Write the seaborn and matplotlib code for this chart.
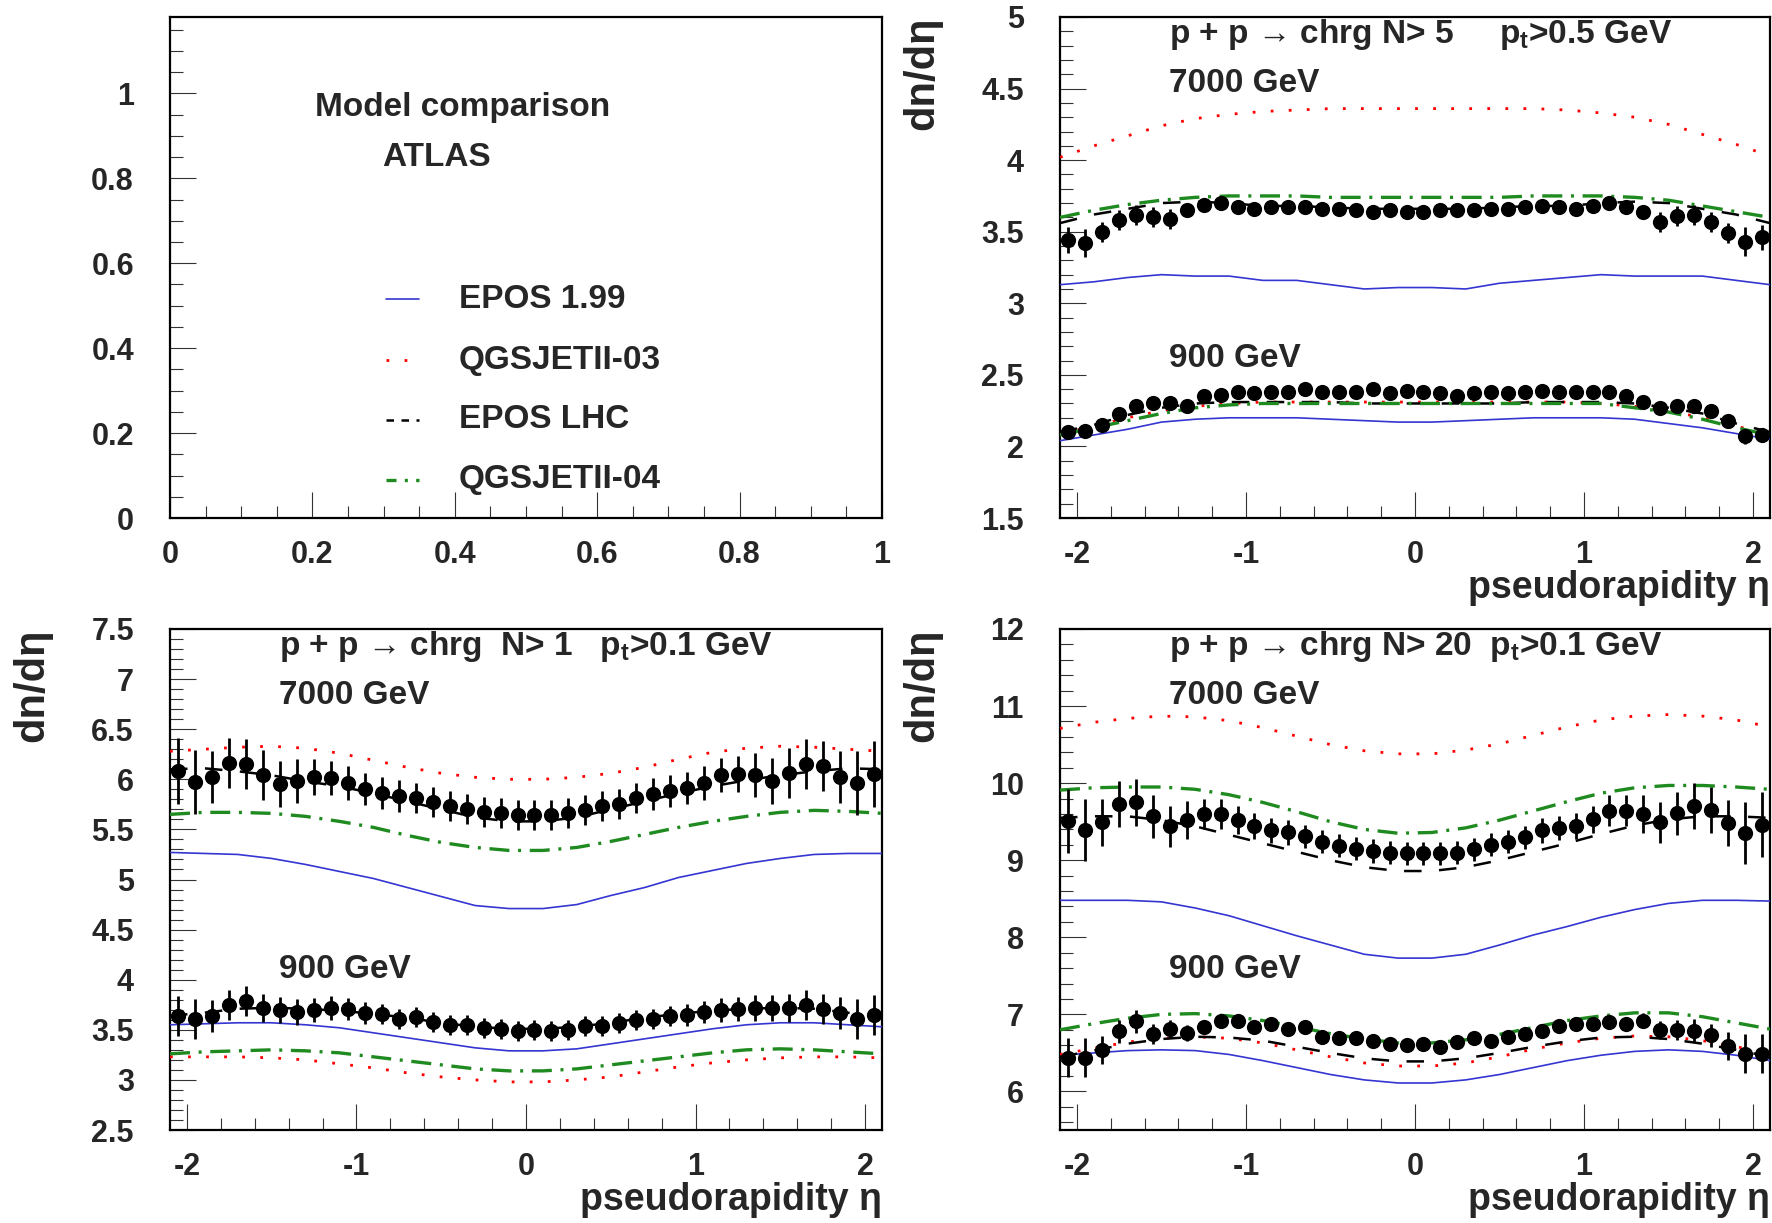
import matplotlib
matplotlib.use("Agg")
import matplotlib.pyplot as plt
import seaborn as sns
from matplotlib.ticker import MultipleLocator, FuncFormatter

sns.set_style("white")
plt.rcParams["font.family"] = ["Liberation Sans", "DejaVu Sans"]
plt.rcParams["font.weight"] = "bold"
plt.rcParams["mathtext.fontset"] = "custom"
plt.rcParams["mathtext.rm"] = "Liberation Sans:bold"
plt.rcParams["mathtext.it"] = "Liberation Sans:bold"
plt.rcParams["mathtext.bf"] = "Liberation Sans:bold"

# ---------------- data ----------------
eta_data = [-2.05, -1.95, -1.85, -1.75, -1.65, -1.55, -1.45, -1.35, -1.25, -1.15,
            -1.05, -0.95, -0.85, -0.75, -0.65, -0.55, -0.45, -0.35, -0.25, -0.15,
            -0.05, 0.05, 0.15, 0.25, 0.35, 0.45, 0.55, 0.65, 0.75, 0.85,
            0.95, 1.05, 1.15, 1.25, 1.35, 1.45, 1.55, 1.65, 1.75, 1.85, 1.95, 2.05]
eta_model = [-2.1, -1.9, -1.7, -1.5, -1.3, -1.1, -0.9, -0.7, -0.5, -0.3, -0.1,
             0.1, 0.3, 0.5, 0.7, 0.9, 1.1, 1.3, 1.5, 1.7, 1.9, 2.1]

model_names = ["EPOS 1.99", "QGSJETII-03", "EPOS LHC", "QGSJETII-04"]

# Panel A: N>5, pt>0.5 GeV
a7000_data = [3.44, 3.42, 3.50, 3.58, 3.62, 3.60, 3.59, 3.65, 3.69, 3.70, 3.67, 3.66, 3.67, 3.67,
              3.67, 3.66, 3.66, 3.65, 3.64, 3.65, 3.64, 3.64, 3.65, 3.65, 3.65, 3.66, 3.66, 3.67,
              3.68, 3.67, 3.66, 3.68, 3.70, 3.67, 3.64, 3.57, 3.61, 3.62, 3.57, 3.49, 3.43, 3.46]
a7000_err = [0.09, 0.10, 0.07, 0.07, 0.07, 0.07, 0.07, 0.05, 0.04, 0.04,
             0.035, 0.035, 0.035, 0.035, 0.035, 0.035, 0.035, 0.035, 0.035, 0.035, 0.035,
             0.035, 0.035, 0.035, 0.035, 0.035, 0.035, 0.035, 0.035, 0.035, 0.035, 0.035,
             0.04, 0.04, 0.05, 0.07, 0.07, 0.07, 0.07, 0.07, 0.10, 0.09]
a900_data = [2.10, 2.11, 2.15, 2.23, 2.28, 2.30, 2.30, 2.28, 2.35, 2.36, 2.38, 2.37, 2.38, 2.38,
             2.40, 2.38, 2.38, 2.38, 2.40, 2.37, 2.39, 2.38, 2.37, 2.35, 2.37, 2.38, 2.37, 2.38,
             2.39, 2.38, 2.38, 2.38, 2.38, 2.35, 2.31, 2.27, 2.28, 2.28, 2.25, 2.18, 2.07, 2.08]
a900_err = [0.05, 0.05, 0.045, 0.04, 0.04, 0.035, 0.035, 0.035, 0.03, 0.03,
            0.03, 0.03, 0.03, 0.03, 0.03, 0.03, 0.03, 0.03, 0.03, 0.03, 0.03,
            0.03, 0.03, 0.03, 0.03, 0.03, 0.03, 0.03, 0.03, 0.03, 0.03, 0.03,
            0.03, 0.03, 0.035, 0.035, 0.035, 0.04, 0.04, 0.045, 0.05, 0.05]
a7000_epos199 = [3.13, 3.15, 3.18, 3.20, 3.19, 3.19, 3.16, 3.16, 3.13, 3.10, 3.11, 3.11, 3.10, 3.14, 3.16, 3.18, 3.20, 3.19, 3.19, 3.19, 3.16, 3.13]
a7000_qgs03 = [4.02, 4.10, 4.17, 4.24, 4.29, 4.32, 4.34, 4.35, 4.36, 4.36, 4.36, 4.36, 4.36, 4.36, 4.36, 4.35, 4.33, 4.30, 4.25, 4.18, 4.11, 4.03]
a7000_eposlhc = [3.56, 3.62, 3.66, 3.70, 3.71, 3.70, 3.68, 3.68, 3.67, 3.66, 3.66, 3.66, 3.66, 3.67, 3.68, 3.68, 3.70, 3.71, 3.70, 3.66, 3.62, 3.56]
a7000_qgs04 = [3.60, 3.65, 3.69, 3.72, 3.74, 3.75, 3.75, 3.75, 3.74, 3.74, 3.74, 3.74, 3.74, 3.74, 3.75, 3.75, 3.75, 3.74, 3.72, 3.68, 3.64, 3.60]
a900_epos199 = [2.04, 2.08, 2.12, 2.17, 2.19, 2.20, 2.20, 2.20, 2.19, 2.18, 2.17, 2.17, 2.18, 2.19, 2.20, 2.20, 2.20, 2.19, 2.16, 2.13, 2.09, 2.05]
a900_qgs03 = [2.09, 2.14, 2.20, 2.25, 2.28, 2.30, 2.31, 2.31, 2.31, 2.31, 2.31, 2.31, 2.31, 2.31, 2.31, 2.31, 2.30, 2.28, 2.25, 2.20, 2.14, 2.09]
a900_eposlhc = [2.10, 2.15, 2.22, 2.27, 2.30, 2.31, 2.31, 2.31, 2.31, 2.30, 2.30, 2.30, 2.30, 2.30, 2.31, 2.31, 2.31, 2.30, 2.27, 2.23, 2.16, 2.10]
a900_qgs04 = [2.08, 2.13, 2.18, 2.23, 2.27, 2.29, 2.30, 2.30, 2.30, 2.30, 2.30, 2.30, 2.30, 2.30, 2.30, 2.30, 2.30, 2.27, 2.24, 2.19, 2.13, 2.08]

# Panel B: N>1, pt>0.1 GeV
b7000_data = [6.08, 5.97, 6.02, 6.16, 6.15, 6.04, 5.95, 5.98, 6.02, 6.01, 5.96, 5.90, 5.86, 5.83,
              5.81, 5.77, 5.73, 5.70, 5.67, 5.66, 5.64, 5.64, 5.64, 5.66, 5.69, 5.73, 5.75, 5.81,
              5.85, 5.88, 5.91, 5.96, 6.04, 6.05, 6.04, 5.98, 6.06, 6.15, 6.13, 6.02, 5.96, 6.05]
b7000_err = [0.33, 0.32, 0.26, 0.25, 0.25, 0.25, 0.23, 0.22, 0.18, 0.17,
             0.17, 0.16, 0.16, 0.16, 0.15, 0.15, 0.15, 0.15, 0.15, 0.15, 0.15,
             0.15, 0.15, 0.15, 0.15, 0.15, 0.15, 0.15, 0.16, 0.16, 0.16, 0.17,
             0.17, 0.18, 0.22, 0.23, 0.25, 0.25, 0.25, 0.26, 0.32, 0.33]
b900_data = [3.64, 3.61, 3.64, 3.75, 3.79, 3.72, 3.70, 3.68, 3.70, 3.72, 3.71, 3.67, 3.66, 3.61,
             3.63, 3.58, 3.55, 3.55, 3.52, 3.51, 3.49, 3.50, 3.49, 3.50, 3.54, 3.54, 3.57, 3.60,
             3.61, 3.64, 3.65, 3.68, 3.70, 3.71, 3.72, 3.72, 3.72, 3.75, 3.71, 3.67, 3.61, 3.65]
b900_err = [0.20, 0.20, 0.16, 0.15, 0.15, 0.14, 0.13, 0.13, 0.12, 0.12,
            0.11, 0.11, 0.10, 0.10, 0.10, 0.10, 0.10, 0.10, 0.10, 0.10, 0.10,
            0.10, 0.10, 0.10, 0.10, 0.10, 0.10, 0.10, 0.10, 0.10, 0.11, 0.11,
            0.12, 0.12, 0.13, 0.13, 0.14, 0.15, 0.15, 0.16, 0.20, 0.20]
b7000_epos199 = [5.27, 5.26, 5.25, 5.21, 5.15, 5.08, 5.01, 4.92, 4.83, 4.74, 4.71, 4.71, 4.75, 4.84, 4.92, 5.02, 5.09, 5.16, 5.21, 5.25, 5.26, 5.26]
b7000_qgs03 = [6.28, 6.30, 6.32, 6.33, 6.31, 6.26, 6.19, 6.12, 6.06, 6.02, 6.00, 6.00, 6.02, 6.06, 6.12, 6.20, 6.27, 6.31, 6.33, 6.32, 6.30, 6.28]
b7000_eposlhc = [6.10, 6.11, 6.08, 6.04, 5.98, 5.93, 5.86, 5.78, 5.70, 5.62, 5.58, 5.58, 5.62, 5.70, 5.78, 5.86, 5.93, 5.99, 6.04, 6.08, 6.11, 6.10]
b7000_qgs04 = [5.65, 5.67, 5.67, 5.66, 5.63, 5.58, 5.52, 5.44, 5.37, 5.32, 5.29, 5.29, 5.32, 5.38, 5.45, 5.52, 5.58, 5.63, 5.67, 5.69, 5.68, 5.66]
b900_epos199 = [3.55, 3.56, 3.57, 3.57, 3.55, 3.52, 3.47, 3.42, 3.37, 3.32, 3.29, 3.29, 3.31, 3.36, 3.41, 3.46, 3.51, 3.55, 3.57, 3.57, 3.55, 3.53]
b900_qgs03 = [3.23, 3.23, 3.23, 3.22, 3.20, 3.16, 3.12, 3.07, 3.03, 3.00, 2.98, 2.98, 3.00, 3.03, 3.08, 3.13, 3.17, 3.20, 3.22, 3.23, 3.23, 3.22]
b900_eposlhc = [3.64, 3.67, 3.71, 3.72, 3.71, 3.69, 3.66, 3.62, 3.57, 3.53, 3.51, 3.51, 3.53, 3.57, 3.62, 3.66, 3.69, 3.71, 3.72, 3.71, 3.67, 3.64]
b900_qgs04 = [3.26, 3.28, 3.29, 3.30, 3.29, 3.27, 3.23, 3.19, 3.15, 3.11, 3.09, 3.09, 3.11, 3.15, 3.19, 3.23, 3.27, 3.30, 3.31, 3.30, 3.28, 3.26]

# Panel C: N>20, pt>0.1 GeV
c7000_data = [9.51, 9.39, 9.49, 9.73, 9.75, 9.57, 9.44, 9.52, 9.60, 9.60, 9.52, 9.44, 9.39, 9.36,
              9.31, 9.24, 9.19, 9.15, 9.12, 9.10, 9.09, 9.09, 9.09, 9.10, 9.14, 9.20, 9.24, 9.30,
              9.39, 9.42, 9.44, 9.53, 9.64, 9.64, 9.60, 9.49, 9.61, 9.70, 9.65, 9.48, 9.35, 9.46]
c7000_err = [0.42, 0.40, 0.30, 0.30, 0.30, 0.28, 0.27, 0.25, 0.20, 0.20,
             0.18, 0.17, 0.16, 0.16, 0.15, 0.15, 0.15, 0.15, 0.15, 0.15, 0.15,
             0.15, 0.15, 0.15, 0.15, 0.15, 0.15, 0.15, 0.16, 0.16, 0.17, 0.18,
             0.20, 0.20, 0.25, 0.27, 0.28, 0.30, 0.30, 0.30, 0.40, 0.42]
c900_data = [6.44, 6.44, 6.54, 6.78, 6.91, 6.75, 6.81, 6.76, 6.84, 6.91, 6.92, 6.83, 6.87, 6.81,
             6.83, 6.71, 6.70, 6.70, 6.66, 6.62, 6.60, 6.61, 6.58, 6.64, 6.69, 6.66, 6.71, 6.75,
             6.78, 6.85, 6.87, 6.87, 6.90, 6.87, 6.92, 6.80, 6.80, 6.79, 6.73, 6.59, 6.49, 6.49]
c900_err = [0.25, 0.25, 0.18, 0.15, 0.15, 0.13, 0.12, 0.10, 0.09, 0.08,
            0.07, 0.07, 0.06, 0.06, 0.06, 0.06, 0.06, 0.06, 0.06, 0.06, 0.06,
            0.06, 0.06, 0.06, 0.06, 0.06, 0.06, 0.06, 0.06, 0.06, 0.07, 0.07,
            0.08, 0.09, 0.10, 0.12, 0.13, 0.15, 0.15, 0.18, 0.25, 0.25]
c7000_epos199 = [8.48, 8.48, 8.48, 8.46, 8.38, 8.28, 8.15, 8.02, 7.90, 7.78, 7.73, 7.73, 7.78, 7.90, 8.03, 8.14, 8.26, 8.36, 8.44, 8.48, 8.48, 8.47]
c7000_qgs03 = [10.71, 10.79, 10.84, 10.87, 10.86, 10.81, 10.72, 10.61, 10.50, 10.42, 10.38, 10.38, 10.43, 10.51, 10.62, 10.73, 10.82, 10.87, 10.89, 10.87, 10.82, 10.73]
c7000_eposlhc = [9.55, 9.57, 9.57, 9.52, 9.44, 9.33, 9.22, 9.11, 9.00, 8.91, 8.86, 8.86, 8.91, 9.00, 9.11, 9.22, 9.34, 9.45, 9.53, 9.57, 9.57, 9.55]
c7000_qgs04 = [9.91, 9.94, 9.95, 9.95, 9.92, 9.85, 9.75, 9.63, 9.50, 9.40, 9.35, 9.36, 9.42, 9.52, 9.64, 9.76, 9.87, 9.94, 9.97, 9.97, 9.95, 9.92]
c900_epos199 = [6.47, 6.50, 6.53, 6.54, 6.53, 6.48, 6.40, 6.31, 6.22, 6.15, 6.11, 6.11, 6.15, 6.22, 6.31, 6.40, 6.47, 6.52, 6.54, 6.52, 6.47, 6.40]
c900_qgs03 = [6.48, 6.56, 6.64, 6.69, 6.71, 6.69, 6.63, 6.54, 6.45, 6.37, 6.33, 6.33, 6.37, 6.45, 6.55, 6.63, 6.69, 6.72, 6.71, 6.66, 6.58, 6.50]
c900_eposlhc = [6.45, 6.53, 6.62, 6.68, 6.71, 6.70, 6.66, 6.58, 6.50, 6.43, 6.39, 6.39, 6.43, 6.50, 6.58, 6.65, 6.70, 6.71, 6.68, 6.62, 6.54, 6.45]
c900_qgs04 = [6.80, 6.88, 6.95, 7.00, 7.01, 6.98, 6.92, 6.84, 6.75, 6.68, 6.63, 6.63, 6.67, 6.74, 6.83, 6.92, 6.98, 7.02, 7.02, 6.97, 6.89, 6.81]

titles = {
    "A": "p + p \u2192 chrg N> 5     p$_{t}$>0.5 GeV",
    "B": "p + p \u2192 chrg  N> 1   p$_{t}$>0.1 GeV",
    "C": "p + p \u2192 chrg N> 20  p$_{t}$>0.1 GeV",
}

# ---------------- styles ----------------
styles = {
    "EPOS 1.99": dict(color="#3535d2", lw=1.2, linestyle="-"),
    "QGSJETII-03": dict(color="#ff0000", lw=2.0, linestyle=(0, (1, 5.5))),
    "EPOS LHC": dict(color="black", lw=1.8, linestyle=(0, (7, 7))),
    "QGSJETII-04": dict(color="#1f8a1f", lw=2.4, linestyle=(0, (6, 2.6, 0.9, 2.6))),
}
legend_ls = {
    "EPOS 1.99": "-",
    "QGSJETII-03": (0, (1, 5.5)),
    "EPOS LHC": (0, (3, 3)),
    "QGSJETII-04": (0, (3, 2.5, 0.9, 2.5)),
}

W, H = 1772, 1223
fig = plt.figure(figsize=(W / 100, H / 100), dpi=100)

TXT = 24


def axes_px(x0, y0, x1, y1):
    return fig.add_axes([x0 / W, 1 - y1 / H, (x1 - x0) / W, (y1 - y0) / H])


fmt = FuncFormatter(lambda v, p: ("%g" % round(v, 6)))


def style_axes(ax, xlim, ylim, xmaj, xmin, ymaj, ymin):
    ax.set_xlim(*xlim)
    ax.set_ylim(*ylim)
    ax.xaxis.set_major_locator(MultipleLocator(xmaj))
    ax.xaxis.set_minor_locator(MultipleLocator(xmin))
    ax.yaxis.set_major_locator(MultipleLocator(ymaj))
    ax.yaxis.set_minor_locator(MultipleLocator(ymin))
    ax.xaxis.set_major_formatter(fmt)
    ax.yaxis.set_major_formatter(fmt)
    ax.tick_params(axis="both", which="both", direction="in", top=False, right=False,
                   left=True, bottom=True, color="#333333")
    ax.tick_params(axis="both", which="major", length=19, width=0.8, labelsize=22)
    ax.tick_params(axis="both", which="minor", length=9, width=0.8)
    ax.tick_params(axis="y", which="major", pad=26)
    ax.tick_params(axis="x", which="major", pad=16)
    for s in ax.spines.values():
        s.set_color("black")
        s.set_linewidth(1.6)
        s.set_visible(True)
    ax.set_xlabel("")
    ax.set_ylabel("")
    ax.grid(False)


def draw_panel(ax, key, d7, e7, d9, e9, m7, m9, ylim, ymaj, ymin, y900):
    for mset in (m7, m9):
        for name, vals in zip(model_names, mset):
            st = styles[name]
            sns.lineplot(x=eta_model, y=vals, ax=ax, color=st["color"], lw=st["lw"],
                         linestyle=st["linestyle"], errorbar=None, legend=False, sort=False,
                         zorder=3)
    for d, e in ((d7, e7), (d9, e9)):
        ax.errorbar(eta_data, d, yerr=e, fmt="none", ecolor="black", elinewidth=2.0,
                    capsize=0, zorder=4)
        sns.scatterplot(x=eta_data, y=d, ax=ax, color="black", s=120, edgecolor="black",
                        linewidth=0, legend=False, zorder=5)
    style_axes(ax, (-2.1, 2.1), ylim, 1, 0.2, ymaj, ymin)
    ax.text(0.153, 0.966, titles[key], transform=ax.transAxes, ha="left", va="center",
            fontsize=TXT)
    ax.text(0.153, 0.868, "7000 GeV", transform=ax.transAxes, ha="left", va="center",
            fontsize=TXT)
    ax.text(0.153, y900, "900 GeV", transform=ax.transAxes, ha="left", va="center",
            fontsize=TXT)
    ax.text(-0.194, 1.0, "dn/d\u03b7", transform=ax.transAxes, ha="center", va="top",
            rotation=90, fontsize=30)
    ax.text(1.0, -0.160, "pseudorapidity \u03b7", transform=ax.transAxes, ha="right",
            va="baseline", fontsize=27)


# ---- top-left: legend panel ----
ax0 = axes_px(170, 17, 882, 518)
style_axes(ax0, (0, 1), (0, 1.18), 0.2, 0.05, 0.2, 0.05)
ax0.text(0.204, 0.819, "Model comparison", transform=ax0.transAxes, ha="left",
         va="center", fontsize=TXT)
ax0.text(0.298, 0.719, "ATLAS", transform=ax0.transAxes, ha="left", va="center",
         fontsize=TXT)
legend_rows = [0.437, 0.315, 0.196, 0.076]
for name, yy in zip(model_names, legend_rows):
    st = styles[name]
    ax0.plot([0.303, 0.350], [yy, yy], transform=ax0.transAxes, color=st["color"],
             lw=st["lw"], linestyle=legend_ls[name])
    ax0.text(0.406, yy, name, transform=ax0.transAxes, ha="left", va="center", fontsize=TXT)

# ---- top-right ----
axA = axes_px(1060, 17, 1770, 518)
draw_panel(axA, "A", a7000_data, a7000_err, a900_data, a900_err,
           [a7000_epos199, a7000_qgs03, a7000_eposlhc, a7000_qgs04],
           [a900_epos199, a900_qgs03, a900_eposlhc, a900_qgs04],
           (1.5, 5.0), 0.5, 0.1, 0.319)

# ---- bottom-left ----
axB = axes_px(170, 629, 882, 1130)
draw_panel(axB, "B", b7000_data, b7000_err, b900_data, b900_err,
           [b7000_epos199, b7000_qgs03, b7000_eposlhc, b7000_qgs04],
           [b900_epos199, b900_qgs03, b900_eposlhc, b900_qgs04],
           (2.5, 7.5), 0.5, 0.1, 0.321)

# ---- bottom-right ----
axC = axes_px(1060, 629, 1770, 1130)
draw_panel(axC, "C", c7000_data, c7000_err, c900_data, c900_err,
           [c7000_epos199, c7000_qgs03, c7000_eposlhc, c7000_qgs04],
           [c900_epos199, c900_qgs03, c900_eposlhc, c900_qgs04],
           (5.5, 12.0), 1, 0.2, 0.321)

fig.savefig("out.png", dpi=100, facecolor="white")
